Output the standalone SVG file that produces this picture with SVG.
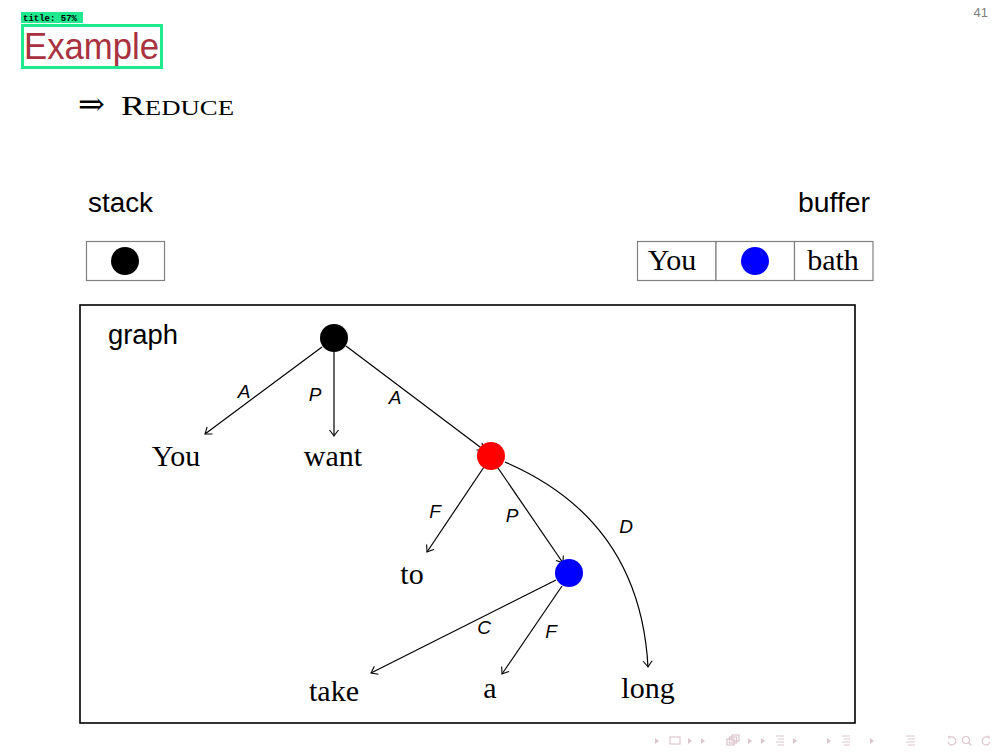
<svg xmlns="http://www.w3.org/2000/svg" width="1008" height="756" viewBox="0 0 1008 756">
<style>
.sans{font-family:"Liberation Sans","DejaVu Sans",sans-serif;}
.serif{font-family:"Liberation Serif","DejaVu Serif",serif;}
.lbl{font-family:"Liberation Sans","DejaVu Sans",sans-serif;font-style:italic;font-size:19px;fill:#000;text-anchor:middle;}
.word{font-family:"Liberation Serif","DejaVu Serif",serif;font-size:30px;fill:#000;text-anchor:middle;}
.edge{fill:none;stroke:#000;stroke-width:1.2;marker-end:url(#arr);}
.cell{fill:#fff;stroke:#808080;stroke-width:1.2;}
.nav{fill:none;stroke:#dcc5cc;stroke-width:1.2;}
.navf{fill:#dcc5cc;}
</style>
<defs>
<marker id="arr" viewBox="-8 -6 10 12" refX="0" refY="0" markerWidth="10" markerHeight="12" markerUnits="userSpaceOnUse" orient="auto">
<path d="M -6 -4.5 Q -1.5 -1 0 0 Q -1.5 1 -6 4.5" fill="none" stroke="#000" stroke-width="1.1"/>
</marker>
</defs>
<rect width="1008" height="756" fill="#fff"/>
<g id="title">
<text x="24" y="59" class="sans" font-size="36" fill="#a83240" textLength="135" lengthAdjust="spacingAndGlyphs">Example</text>
<rect x="22.5" y="25.5" width="139" height="42" fill="none" stroke="#20e88e" stroke-width="3"/>
<rect x="21" y="12" width="62" height="11" fill="#20e88e"/>
<text x="23" y="21" font-family="'Liberation Mono','DejaVu Sans Mono',monospace" font-size="9" font-weight="bold" fill="#000">title: 57%</text>
</g>
<text x="988" y="17" class="sans" font-size="13" fill="#808080" text-anchor="end">41</text>
<g id="subtitle">
<text x="78" y="115" class="serif" font-size="32" fill="#000">⇒</text>
<text x="121" y="115" class="serif" font-size="28" fill="#000" textLength="113" lengthAdjust="spacingAndGlyphs">R<tspan font-size="21">EDUCE</tspan></text>
</g>
<g id="stack">
<text x="88" y="212" class="sans" font-size="27" fill="#000" textLength="65" lengthAdjust="spacingAndGlyphs">stack</text>
<rect class="cell" x="86.5" y="241.5" width="78" height="39"/>
<circle cx="125" cy="261" r="14" fill="#000"/>
</g>
<g id="buffer">
<text x="798" y="212" class="sans" font-size="27" fill="#000" textLength="72" lengthAdjust="spacingAndGlyphs">buffer</text>
<rect class="cell" x="637.5" y="241.5" width="78.5" height="39"/>
<rect class="cell" x="716" y="241.5" width="78.5" height="39"/>
<rect class="cell" x="794.5" y="241.5" width="78.5" height="39"/>
<text x="672" y="270" class="word" font-size="27">You</text>
<circle cx="755" cy="261" r="14" fill="#0000ff"/>
<text x="833" y="270" class="word" font-size="27">bath</text>
</g>
<g id="graph">
<rect x="80" y="305" width="775" height="418" fill="none" stroke="#000" stroke-width="1.6"/>
<text x="108" y="344" class="sans" font-size="27" fill="#000" textLength="70" lengthAdjust="spacingAndGlyphs">graph</text>
</g>
<g id="connectors">
<line class="edge" x1="322" y1="347" x2="205" y2="434"/>
<line class="edge" x1="334" y1="352" x2="334" y2="436"/>
<line class="edge" x1="346" y1="346" x2="484" y2="450"/>
<line class="edge" x1="484" y1="467" x2="427" y2="552"/>
<line class="edge" x1="498" y1="468" x2="563" y2="563"/>
<path class="edge" d="M 505 462 Q 640 520 648 667"/>
<line class="edge" x1="556" y1="580" x2="371" y2="673"/>
<line class="edge" x1="562" y1="586" x2="502" y2="674"/>
<text class="lbl" x="244" y="398">A</text>
<text class="lbl" x="315" y="401">P</text>
<text class="lbl" x="395" y="404">A</text>
<text class="lbl" x="435" y="518">F</text>
<text class="lbl" x="512" y="522">P</text>
<text class="lbl" x="626" y="533">D</text>
<text class="lbl" x="484" y="634">C</text>
<text class="lbl" x="551" y="638">F</text>
</g>
<g id="root"><circle cx="334" cy="338" r="14" fill="#000"/></g>
<g id="n-you"><text class="word" x="176" y="466">You</text></g>
<g id="n-want"><text class="word" x="333" y="466">want</text></g>
<g id="red"><circle cx="491" cy="456" r="14" fill="#ff0000"/></g>
<g id="n-to"><text class="word" x="412" y="584">to</text></g>
<g id="blue"><circle cx="569" cy="573" r="14" fill="#0000ff"/></g>
<g id="n-take"><text class="word" x="334" y="701">take</text></g>
<g id="n-a"><text class="word" x="490" y="698">a</text></g>
<g id="n-long"><text class="word" x="648" y="698">long</text></g>
<g id="navigation">
<path class="navf" d="M 659 741 l -4 -3 v 6 z"/>
<rect class="nav" x="670" y="737" width="10" height="7"/>
<path class="navf" d="M 688 738 l 4 3 l -4 3 z"/>
<path class="navf" d="M 705 741 l -4 -3 v 6 z"/>
<rect class="nav" x="727" y="739" width="7" height="6"/>
<rect class="nav" x="729.5" y="737" width="7" height="6"/>
<rect class="nav" x="732" y="735" width="7" height="6"/>
<path class="navf" d="M 748 738 l 4 3 l -4 3 z"/>
<path class="navf" d="M 765 741 l -4 -3 v 6 z"/>
<path class="nav" d="M 776 736 h 8 M 778 739 h 6 M 776 742 h 8 M 778 745 h 6"/>
<path class="navf" d="M 793 738 l 4 3 l -4 3 z"/>
<path class="navf" d="M 831 741 l -4 -3 v 6 z"/>
<path class="nav" d="M 842 736 h 8 M 844 739 h 6 M 842 742 h 8 M 844 745 h 6"/>
<path class="navf" d="M 870 738 l 4 3 l -4 3 z"/>
<path class="nav" d="M 906 736 h 9 M 908 739 h 7 M 906 742 h 9 M 908 745 h 7"/>
<path class="nav" d="M 948 742 a 4 4 0 1 0 3 -5 l -2 -1 M 949 736 l 0 3"/>
<circle class="nav" cx="966" cy="740" r="3.5"/>
<path class="nav" d="M 968.5 742.5 l 3 3"/>
<path class="nav" d="M 990 742 a 4 4 0 1 1 -3 -5 l 2 -1 M 989 736 l 0 3"/>
</g>
</svg>
